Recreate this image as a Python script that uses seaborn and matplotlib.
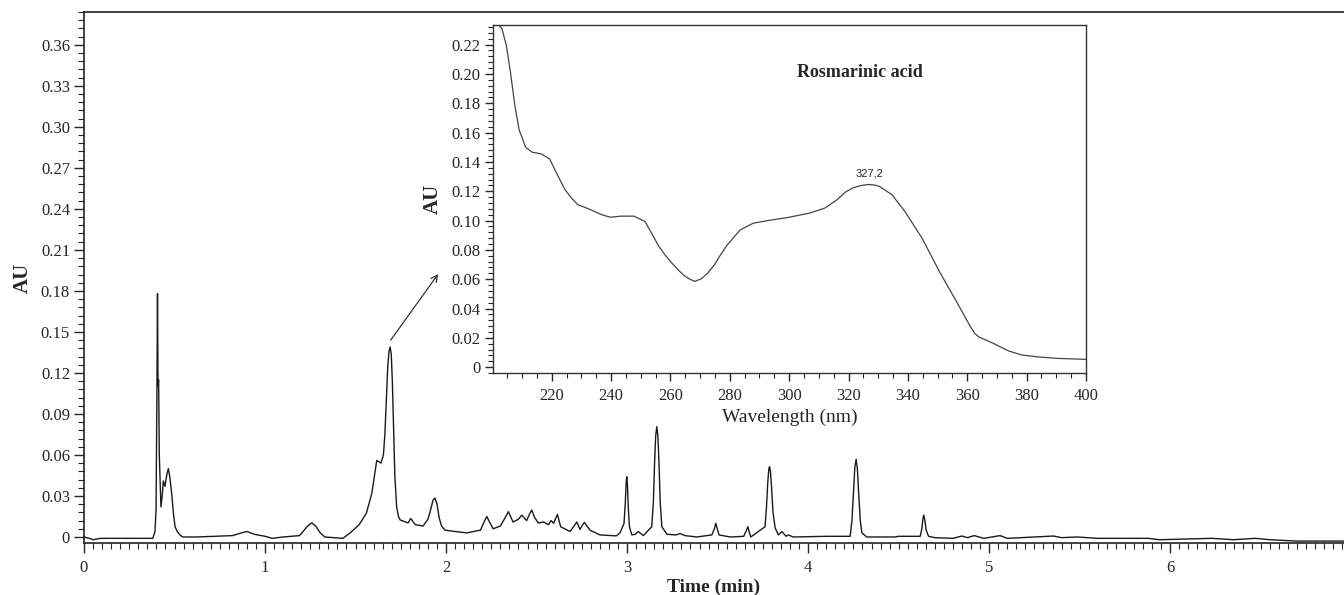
import matplotlib
matplotlib.use('Agg')
import matplotlib.pyplot as plt
from matplotlib.ticker import MultipleLocator, FixedLocator
import pandas as pd
import seaborn as sns

sns.set_style('ticks')
plt.rcParams['font.family'] = ['Liberation Serif', 'DejaVu Serif']
plt.rcParams['font.size'] = 12

# chromatogram trace (time in min, absorbance in AU)
rt_min = [0.00, 0.03, 0.05, 0.09, 0.38, 0.392, 0.398, 0.403, 0.406, 0.409, 0.412, 0.416,
          0.425, 0.432, 0.438, 0.447, 0.458, 0.466, 0.474, 0.484, 0.495, 0.503, 0.515,
          0.530, 0.545, 0.62, 0.82, 0.87, 0.90, 0.94, 1.00, 1.04, 1.10, 1.19, 1.21, 1.235,
          1.258, 1.28, 1.305, 1.33, 1.43, 1.47, 1.52, 1.56, 1.59, 1.617, 1.64, 1.654, 1.662,
          1.670, 1.678, 1.685, 1.691, 1.697, 1.703, 1.710, 1.717, 1.727, 1.737, 1.746, 1.79,
          1.805, 1.83, 1.873, 1.90, 1.915, 1.928, 1.939, 1.950, 1.962, 1.975, 1.994, 2.05,
          2.114, 2.19, 2.21, 2.225, 2.24, 2.26, 2.30, 2.33, 2.344, 2.37, 2.40, 2.418, 2.445,
          2.462, 2.473, 2.49, 2.51, 2.538, 2.565, 2.58, 2.594, 2.607, 2.615, 2.633, 2.685,
          2.712, 2.722, 2.74, 2.755, 2.764, 2.795, 2.85, 2.94, 2.961, 2.983, 2.990, 2.995,
          2.998, 3.002, 3.007, 3.013, 3.026, 3.045, 3.062, 3.09, 3.136, 3.145, 3.152, 3.158,
          3.164, 3.170, 3.176, 3.183, 3.192, 3.22, 3.27, 3.293, 3.32, 3.385, 3.468, 3.482,
          3.49, 3.498, 3.508, 3.57, 3.644, 3.660, 3.667, 3.674, 3.683, 3.762, 3.770, 3.777,
          3.783, 3.787, 3.792, 3.798, 3.806, 3.818, 3.836, 3.855, 3.878, 3.89, 3.918, 4.103,
          4.232, 4.242, 4.250, 4.258, 4.265, 4.272, 4.280, 4.288, 4.297, 4.324, 4.48, 4.50,
          4.619, 4.628, 4.634, 4.639, 4.645, 4.652, 4.665, 4.70, 4.80, 4.849, 4.88, 4.917,
          4.97, 5.06, 5.10, 5.355, 5.40, 5.485, 5.60, 5.88, 5.94, 6.23, 6.35, 6.47, 6.55,
          6.70, 6.96]
au_trace = [0.000, -0.001, -0.002, -0.001, -0.001, 0.004, 0.020, 0.110, 0.178, 0.110, 0.115, 0.060,
            0.022, 0.030, 0.041, 0.037, 0.046, 0.050, 0.044, 0.032, 0.016, 0.0075, 0.004,
            0.0015, 0.000, 0.000, 0.001, 0.003, 0.004, 0.002, 0.0005, -0.001, 0.000, 0.001, 0.004, 0.008,
            0.0103, 0.008, 0.003, 0.000, -0.001, 0.003, 0.009, 0.0175, 0.032, 0.056, 0.054, 0.060, 0.075,
            0.100, 0.125, 0.136, 0.139, 0.134, 0.115, 0.080, 0.045, 0.022, 0.015, 0.0125, 0.0103,
            0.0135, 0.009, 0.008, 0.013, 0.020, 0.027, 0.0285, 0.024, 0.014, 0.008, 0.005, 0.004,
            0.003, 0.005, 0.011, 0.015, 0.011, 0.006, 0.008, 0.015, 0.0185, 0.011, 0.013, 0.016, 0.012,
            0.017, 0.0197, 0.014, 0.0102, 0.011, 0.009, 0.012, 0.010, 0.014, 0.0166, 0.0075, 0.004,
            0.009, 0.011, 0.0055, 0.009, 0.0107, 0.005, 0.0015, 0.0008, 0.003, 0.010, 0.025, 0.040,
            0.044, 0.038, 0.020, 0.0075, 0.0015, 0.002, 0.004, 0.001, 0.0075, 0.025, 0.055, 0.074,
            0.0807, 0.074, 0.055, 0.025, 0.0075, 0.002, 0.0015, 0.0025, 0.001, 0.000, 0.0015, 0.006,
            0.010, 0.006, 0.0015, 0.000, 0.0005, 0.005, 0.0075, 0.004, 0.000, 0.0075, 0.022, 0.040,
            0.050, 0.0514, 0.048, 0.036, 0.018, 0.0065, 0.0015, 0.004, 0.0005, 0.0015, 0.000, 0.0005,
            0.0005, 0.012, 0.032, 0.051, 0.0568, 0.050, 0.030, 0.012, 0.003, 0.000, 0.000, 0.0005,
            0.0005, 0.006, 0.013, 0.016, 0.012, 0.005, 0.0005, -0.0005, -0.001, 0.0007, -0.0005, 0.001,
            -0.001, 0.001, -0.001, 0.0007, -0.0005, 0.000, -0.001, -0.001, -0.002, -0.001, -0.002, -0.001, -0.002,
            -0.003, -0.003]

# UV spectrum of the rosmarinic acid peak
wavelength_nm = [200.3, 201.8, 203.2, 204.7, 206.1, 207.6, 209.0, 211.2, 213.4, 216.4, 219.3,
                 222.2, 224.5, 226.6, 228.8, 232.4, 236.8, 239.7, 243.4, 247.7, 251.4, 253.5,
                 255.8, 258.0, 260.1, 262.3, 264.5, 266.5, 268.2, 270.4, 272.5, 274.7, 277.0,
                 279.1, 283.5, 287.9, 292.3, 299.6, 306.9, 312.0, 316.0, 319.0, 321.5, 324.0,
                 326.6, 328.5, 330.2, 334.6, 339.0, 344.8, 350.7, 356.5, 360.9, 362.5, 364.0,
                 368.2, 374.0, 378.4, 384.2, 390.1, 400.0]
au_spectrum = [0.233, 0.234, 0.231, 0.2195, 0.201, 0.178, 0.162, 0.150, 0.1466, 0.1455, 0.142,
               0.130, 0.121, 0.1154, 0.1108, 0.108, 0.104, 0.1023, 0.103, 0.103, 0.0994, 0.092,
               0.0833, 0.077, 0.0718, 0.067, 0.0626, 0.060, 0.0585, 0.0603, 0.064, 0.0695, 0.077,
               0.0833, 0.0936, 0.0982, 0.0998, 0.1021, 0.1051, 0.1085, 0.114, 0.1195, 0.1223, 0.1238,
               0.1246, 0.1243, 0.1235, 0.1177, 0.1062, 0.0879, 0.0649, 0.0443, 0.0282, 0.023, 0.0205,
               0.0168, 0.011, 0.0083, 0.0069, 0.006, 0.0053]

peak_label = '327,2'
peak_wl = 327.2
peak_au = 0.1246

chrom = pd.DataFrame({'time': rt_min, 'au': au_trace})
spec = pd.DataFrame({'wl': wavelength_nm, 'au': au_spectrum})

fig = plt.figure(figsize=(13.44, 5.95), dpi=100)

# main chromatogram
ax = fig.add_axes([0.0625, 0.0874, 0.9375, 0.8924])
sns.lineplot(data=chrom, x='time', y='au', ax=ax, color='#1a1a1a', lw=1.0,
             estimator=None, sort=False)
ax.set_xlim(0, 6.96)
ax.set_ylim(-0.0044, 0.384)
ax.xaxis.set_major_locator(MultipleLocator(1))
ax.xaxis.set_minor_locator(MultipleLocator(0.05))
ax.yaxis.set_major_locator(FixedLocator([i * 0.03 for i in range(13)]))
ax.yaxis.set_minor_locator(MultipleLocator(0.006))
ax.set_yticklabels(['0'] + ['%.2f' % (i * 0.03) for i in range(1, 13)])
ax.tick_params(which='major', direction='out', length=7, width=1, pad=5, labelsize=12)
ax.tick_params(which='minor', direction='out', length=4, width=0.8)
ax.tick_params(axis='y', which='major', pad=3)
ax.spines['right'].set_visible(False)
for s in ['left', 'bottom', 'top']:
    ax.spines[s].set_linewidth(1.2)
    ax.spines[s].set_color('#222222')
ax.set_xlabel('Time (min)', fontsize=14, fontweight='bold', labelpad=2)
ax.set_ylabel('AU', fontsize=15, fontweight='bold', labelpad=6)

ax.annotate('', xy=(1.957, 0.1924), xytext=(1.694, 0.144),
            arrowprops=dict(arrowstyle='->', color='#333333', lw=0.9,
                            shrinkA=0, shrinkB=0, mutation_scale=12))

# inset UV spectrum
ins = fig.add_axes([0.3668, 0.3731, 0.4412, 0.5849])
ins.set_zorder(3)
ins.set_facecolor('white')
sns.lineplot(data=spec, x='wl', y='au', ax=ins, color='#444444', lw=0.9,
             estimator=None, sort=False)
ins.set_xlim(200.2, 400)
ins.set_ylim(-0.004, 0.2334)
ins.xaxis.set_major_locator(FixedLocator(list(range(220, 401, 20))))
ins.xaxis.set_minor_locator(MultipleLocator(5))
ins.yaxis.set_major_locator(FixedLocator([i * 0.02 for i in range(12)]))
ins.yaxis.set_minor_locator(MultipleLocator(0.004))
ins.set_yticklabels(['0'] + ['%.2f' % (i * 0.02) for i in range(1, 12)])
ins.tick_params(which='major', direction='out', length=6, width=1, pad=5, labelsize=12)
ins.tick_params(which='minor', direction='out', length=3.5, width=0.8)
ins.tick_params(axis='y', which='major', pad=3)
for s in ins.spines.values():
    s.set_linewidth(1.0)
    s.set_color('#333333')
ins.set_xlabel('Wavelength (nm)', fontsize=14, labelpad=3)
ins.set_ylabel('AU', fontsize=15, fontweight='bold', labelpad=6)
ins.text(323.9, 0.2007, 'Rosmarinic acid', fontsize=13, fontweight='bold',
         ha='center', va='center')
ins.annotate(peak_label, xy=(peak_wl, peak_au), xytext=(0, 4), textcoords='offset points',
             ha='center', va='bottom', fontsize=8, family=['Liberation Sans', 'DejaVu Sans'])

fig.savefig('out.png', dpi=100)
